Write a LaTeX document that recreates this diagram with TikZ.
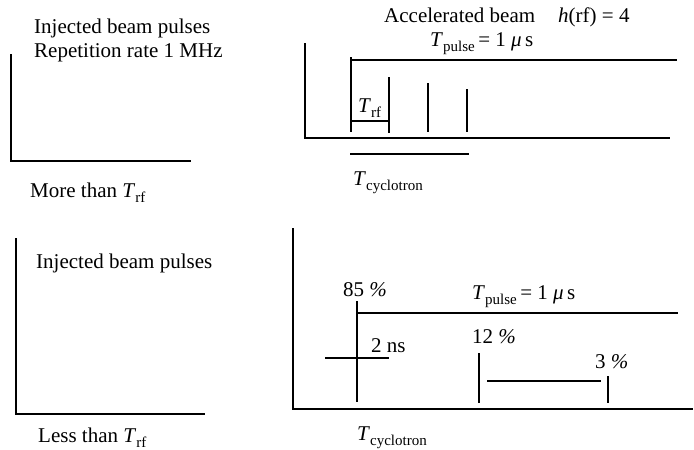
\documentclass[tikz,border=0pt]{standalone}
\usepackage{fontspec}
\setmainfont{Liberation Serif}
\newcommand{\Tsub}[1]{\textit{T}\raisebox{-5pt}{\fontsize{15}{15}\selectfont #1}}
\newcommand{\Tpulse}{\Tsub{pulse}\,= 1 \textit{μ}\,s}
\tikzset{
  lbl/.style={anchor=base west, inner sep=0pt, font=\fontsize{21}{24}\selectfont},
  ln/.style={line width=1.6pt, line cap=butt}
}
\begin{document}
\begin{tikzpicture}[x=1pt,y=-1pt]
\useasboundingbox (0,0) rectangle (694,450);
% ---- top left
\draw[ln] (11,54) -- (11,161) -- (191,161);
\node[lbl] (tl1) at (34,33) {Injected beam pulses};
\node[lbl] (tl2) at (34,57) {Repetition rate 1 MHz};
\node[lbl] (tl3) at (30,197) {More than \Tsub{rf}};
% ---- top right
\draw[ln] (305,43) -- (305,138) -- (670,138);
\draw[ln] (351,57) -- (351,132);
\draw[ln] (351,60) -- (677,60);
\draw[ln] (389,77) -- (389,133);
\draw[ln] (428,83) -- (428,132);
\draw[ln] (467,89) -- (467,132);
\draw[ln] (351,121) -- (389,121);
\draw[ln] (350,154) -- (469,154);
\node[lbl] (tr1) at (384,22) {Accelerated beam};
\node[lbl] (tr2) at (558,22) {\textit{h}(rf) = 4};
\node[lbl] (tr3) at (430,46) {\Tpulse};
\node[lbl] (tr4) at (358,112) {\Tsub{rf}};
\node[lbl] (tr5) at (353,185) {\Tsub{cyclotron}};
% ---- bottom left
\draw[ln] (16,238) -- (16,414) -- (205,414);
\node[lbl] (bl1) at (36,268) {Injected beam pulses};
\node[lbl] (bl2) at (38,442) {Less than \Tsub{rf}};
% ---- bottom right
\draw[ln] (293,228) -- (293,409) -- (693,409);
\draw[ln] (357,301) -- (357,402);
\draw[ln] (357,313) -- (678,313);
\draw[ln] (325,358) -- (389,358);
\draw[ln] (479,353) -- (479,403);
\draw[ln] (487,381) -- (601,381);
\draw[ln] (608,376) -- (608,403);
\node[lbl] (br1) at (343,296) {85 \textit{\%}};
\node[lbl] (br2) at (472,299) {\Tpulse};
\node[lbl] (br3) at (371,352) {2 ns};
\node[lbl] (br4) at (472,343) {12 \textit{\%}};
\node[lbl] (br5) at (595,368) {3 \textit{\%}};
\node[lbl] (br6) at (357,440) {\Tsub{cyclotron}};
\end{tikzpicture}
\end{document}
